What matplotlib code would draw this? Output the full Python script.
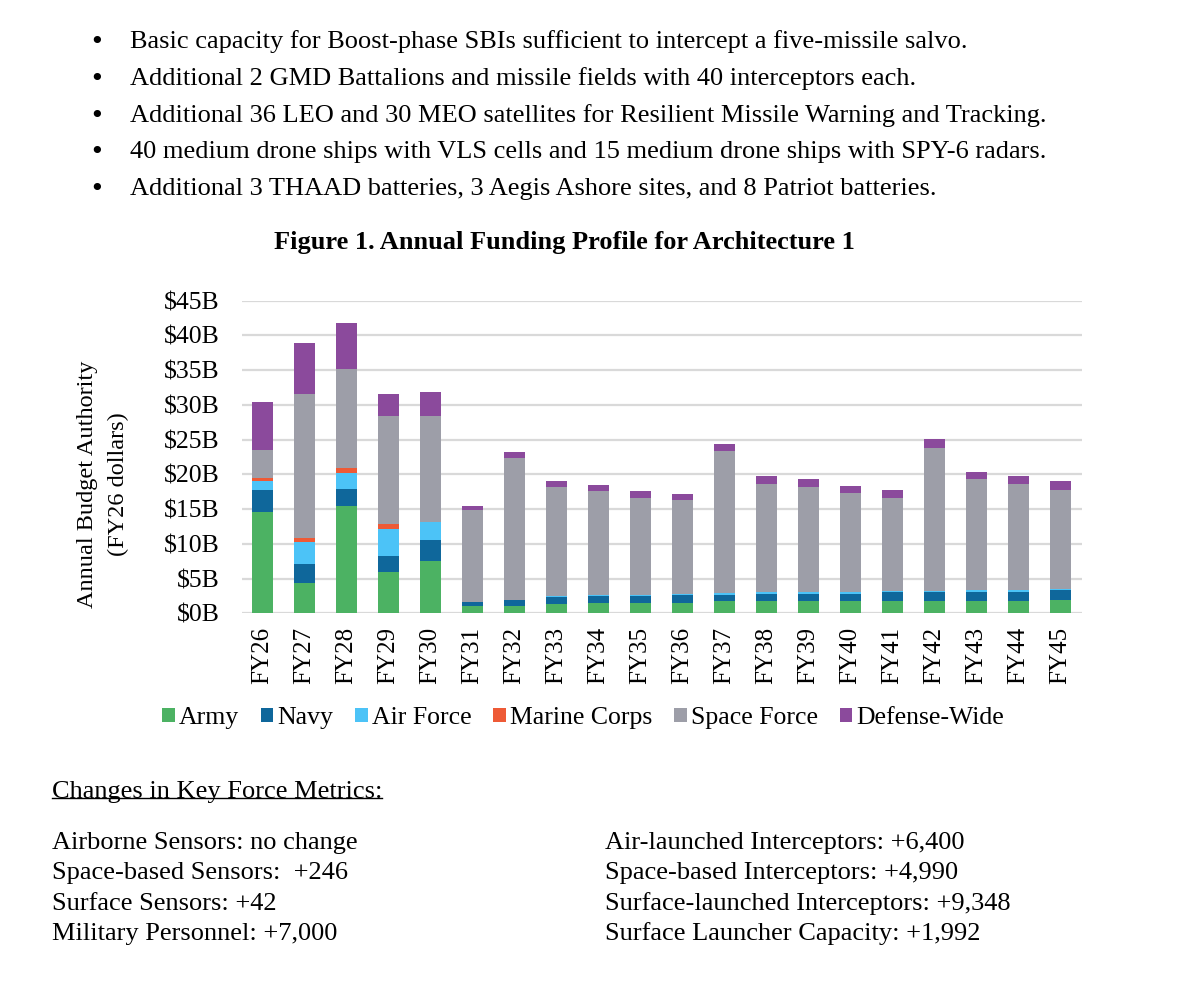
import numpy as np
import matplotlib
matplotlib.use("Agg")
import matplotlib.pyplot as plt
from matplotlib.lines import Line2D

plt.rcParams['font.family'] = ['Liberation Serif', 'DejaVu Serif']

years = ["FY26", "FY27", "FY28", "FY29", "FY30", "FY31", "FY32", "FY33", "FY34", "FY35",
         "FY36", "FY37", "FY38", "FY39", "FY40", "FY41", "FY42", "FY43", "FY44", "FY45"]

# $B
army = [14.6, 4.4, 15.5, 5.95, 7.6, 1.0, 1.1, 1.4, 1.55, 1.55,
        1.55, 1.7, 1.7, 1.7, 1.7, 1.8, 1.8, 1.8, 1.8, 1.95]
navy = [3.1, 2.75, 2.4, 2.3, 2.9, 0.6, 0.8, 0.95, 0.95, 0.95,
        1.1, 1.0, 1.15, 1.15, 1.15, 1.2, 1.2, 1.3, 1.3, 1.35]
air_force = [1.3, 3.15, 2.25, 3.85, 2.65, 0.0, 0.0, 0.2, 0.2, 0.2,
             0.2, 0.2, 0.15, 0.15, 0.15, 0.15, 0.15, 0.2, 0.2, 0.2]
marine_corps = [0.5, 0.6, 0.75, 0.7, 0.0, 0.0, 0.0, 0.0, 0.0, 0.0,
                0.0, 0.0, 0.0, 0.0, 0.0, 0.0, 0.0, 0.0, 0.0, 0.0]
space_force = [4.0, 20.7, 14.3, 15.6, 15.25, 13.3, 20.5, 15.7, 14.95, 13.9,
               13.4, 20.5, 15.65, 15.25, 14.35, 13.45, 20.7, 16.05, 15.25, 14.25]
defense_wide = [6.9, 7.3, 6.6, 3.2, 3.5, 0.6, 0.8, 0.8, 0.85, 1.05,
                0.95, 0.9, 1.15, 1.1, 1.0, 1.15, 1.2, 1.0, 1.2, 1.25]

series_names = ["Army", "Navy", "Air Force", "Marine Corps", "Space Force", "Defense-Wide"]
colors = ['#4cb263', '#0f679b', '#4cc3f7', '#ee5a36', '#9d9ea8', '#8b4a9c']

bullets = [
    "Basic capacity for Boost-phase SBIs sufficient to intercept a five-missile salvo.",
    "Additional 2 GMD Battalions and missile fields with 40 interceptors each.",
    "Additional 36 LEO and 30 MEO satellites for Resilient Missile Warning and Tracking.",
    "40 medium drone ships with VLS cells and 15 medium drone ships with SPY-6 radars.",
    "Additional 3 THAAD batteries, 3 Aegis Ashore sites, and 8 Patriot batteries.",
]
metrics_left = ["Airborne Sensors: no change", "Space-based Sensors:  +246",
                "Surface Sensors: +42", "Military Personnel: +7,000"]
metrics_right = ["Air-launched Interceptors: +6,400", "Space-based Interceptors: +4,990",
                 "Surface-launched Interceptors: +9,348", "Surface Launcher Capacity: +1,992"]

W, H = 1198, 996
fig = plt.figure(figsize=(W / 100, H / 100), dpi=100)


def fx(px):
    return px / W


def fy(py):
    return 1 - py / H


# bullet list
for i, line in enumerate(bullets):
    y = fy(42 + i * 36.8)
    fig.text(fx(97), y, "\u2022", fontsize=18, ha='center', va='center', family=['DejaVu Sans'])
    fig.text(fx(130), y, line, fontsize=19, va='center')

fig.text(fx(564), fy(242), "Figure 1. Annual Funding Profile for Architecture 1",
         fontsize=19, fontweight='bold', ha='center', va='center')

ax = fig.add_axes([fx(241.7), fy(613.3), fx(1081.7 - 241.7), (613.3 - 300.7) / H])
x = np.arange(len(years))
bottom = np.zeros(len(years))
data = [army, navy, air_force, marine_corps, space_force, defense_wide]
for vals, name, color in zip(data, series_names, colors):
    vals = np.array(vals)
    ax.bar(x, vals, bottom=bottom, width=0.5, color=color, label=name, zorder=3)
    bottom += vals

ax.set_ylim(0, 45)
ax.set_xlim(-0.5, len(years) - 0.5)
ax.set_yticks(np.arange(0, 46, 5))
ax.set_yticklabels([f"${v}B" for v in range(0, 46, 5)], fontsize=18.5)
ax.set_xticks(x)
ax.set_xticklabels(years, rotation=90, fontsize=18)
ax.tick_params(length=0)
ax.tick_params(axis='x', pad=10)
ax.tick_params(axis='y', pad=16)
ax.grid(axis='y', color='#d9d9d9', linewidth=1.6, zorder=0)
for s in ax.spines.values():
    s.set_visible(False)

fig.text(fx(88), fy(484), "Annual Budget Authority", rotation=90, fontsize=17.5,
         ha='center', va='center')
fig.text(fx(118), fy(484), "(FY26 dollars)", rotation=90, fontsize=17.5,
         ha='center', va='center')

fig.legend(loc='center', bbox_to_anchor=(fx(583), fy(718)), ncol=6, frameon=False,
           fontsize=18.5, handlelength=0.5, handleheight=0.5, handletextpad=0.15,
           columnspacing=0.85)

t = fig.text(fx(52), fy(792), "Changes in Key Force Metrics:", fontsize=19, va='center')
fig.canvas.draw()
bb = t.get_window_extent().transformed(fig.transFigure.inverted())
fig.add_artist(Line2D([bb.x0, bb.x1], [bb.y0 + 0.005, bb.y0 + 0.005],
                      transform=fig.transFigure, color='black', linewidth=1))

for i, (left, right) in enumerate(zip(metrics_left, metrics_right)):
    y = fy(843 + i * 30.3)
    fig.text(fx(52), y, left, fontsize=19, va='center')
    fig.text(fx(605), y, right, fontsize=19, va='center')

fig.savefig("out.png", dpi=100, facecolor='white')
